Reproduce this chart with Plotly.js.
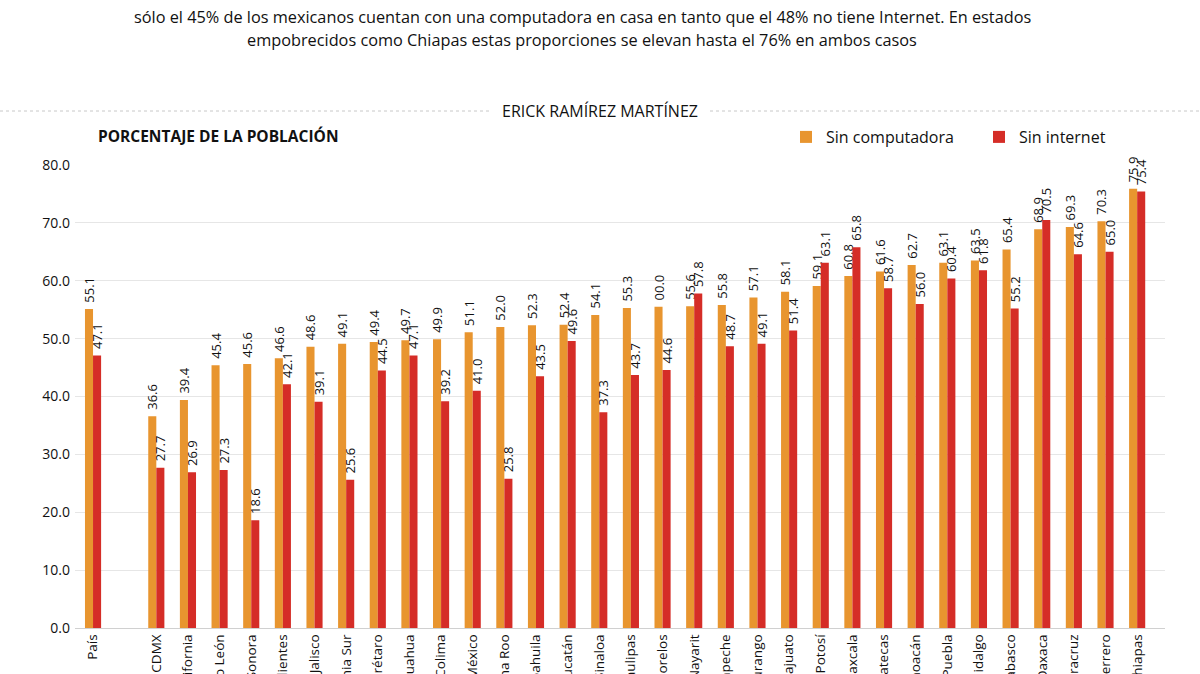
<!DOCTYPE html>
<html>
<head>
<meta charset="utf-8">
<script src="https://cdn.plot.ly/plotly-3.0.1.min.js"></script>
<style>html,body{margin:0;padding:0;background:#fff;}#chart{width:1200px;height:674px;}</style>
</head>
<body>
<div id="chart"></div>
<script>
const categories = ["País", " ", "CDMX", "Baja California", "Nuevo León", "Sonora", "Aguascalientes", "Jalisco",
  "Baja California Sur", "Querétaro", "Chihuahua", "Colima", "Estado de México", "Quintana Roo", "Coahuila",
  "Yucatán", "Sinaloa", "Tamaulipas", "Morelos", "Nayarit", "Campeche", "Durango", "Guanajuato",
  "San Luis Potosí", "Tlaxcala", "Zacatecas", "Michoacán", "Puebla", "Hidalgo", "Tabasco", "Oaxaca",
  "Veracruz", "Guerrero", "Chiapas"];

const sinComputadora = [55.1, null, 36.6, 39.4, 45.4, 45.6, 46.6, 48.6, 49.1, 49.4, 49.7, 49.9, 51.1, 52.0, 52.3,
  52.4, 54.1, 55.3, 55.5, 55.6, 55.8, 57.1, 58.1, 59.1, 60.8, 61.6, 62.7, 63.1, 63.5, 65.4, 68.9, 69.3, 70.3, 75.9];

const sinInternet = [47.1, null, 27.7, 26.9, 27.3, 18.6, 42.1, 39.1, 25.6, 44.5, 47.1, 39.2, 41.0, 25.8, 43.5,
  49.6, 37.3, 43.7, 44.6, 57.8, 48.7, 49.1, 51.4, 63.1, 65.8, 58.7, 56.0, 60.4, 61.8, 55.2, 70.5, 64.6, 65.0, 75.4];

// labels as printed in the source (Morelos is printed as "00.0")
const labelOverridesComputadora = {"Morelos": "00.0"};

const yTicks = [0, 10, 20, 30, 40, 50, 60, 70, 80];

const GAP = "\u00a0";
const fmt = (arr, overrides) => arr.map((v, i) =>
  v === null ? "" : GAP + (overrides && overrides[categories[i]] !== undefined ? overrides[categories[i]] : v.toFixed(1)));

const ORANGE = "#E8952F", RED = "#D52D27";

const traces = [
  {type: "bar", name: "Sin computadora", x: categories, y: sinComputadora,
   marker: {color: ORANGE}, text: fmt(sinComputadora, labelOverridesComputadora),
   textposition: "outside", textangle: -90, constraintext: "none", cliponaxis: false,
   textfont: {family: "Open Sans", size: 13, color: "#111"}, hoverinfo: "skip"},
  {type: "bar", name: "Sin internet", x: categories, y: sinInternet,
   marker: {color: RED}, text: fmt(sinInternet),
   textposition: "outside", textangle: -90, constraintext: "none", cliponaxis: false,
   textfont: {family: "Open Sans", size: 13, color: "#111"}, hoverinfo: "skip"}
];

const T = 165, B = 46, H = 674, PH = H - T - B;
const py = (px) => 1 + (T - px) / PH;
const L = 75, R = 35, PW = 1200 - L - R;
const pxX = (px) => (px - L) / PW;

const layout = {
  width: 1200, height: 674,
  margin: {t: T, b: B, l: L, r: R, pad: 0},
  paper_bgcolor: "#fff", plot_bgcolor: "#fff",
  font: {family: "Open Sans", color: "#111"},
  barmode: "group", bargap: 0.49, bargroupgap: 0,
  showlegend: true,
  legend: {orientation: "h", x: pxX(786), xanchor: "left", y: py(137), yanchor: "middle",
    font: {family: "Open Sans", size: 16, color: "#111"}, bgcolor: "rgba(0,0,0,0)", traceorder: "normal",
    entrywidth: 148, entrywidthmode: "pixels"},
  xaxis: {type: "category", range: [-0.57, 33.88], tickangle: -90, automargin: false, showgrid: false,
    showline: true, linecolor: "#d0d0d0", linewidth: 1, ticks: "",
    tickfont: {family: "Open Sans", size: 13.5, color: "#111"}, fixedrange: true},
  yaxis: {range: [0, 80], tickvals: yTicks, ticktext: yTicks.map(v => v.toFixed(1)),
    showgrid: true, gridcolor: "#e6e6e6", gridwidth: 1, zeroline: false, showline: false,
    ticks: "", ticklabelstandoff: 4, automargin: false,
    tickfont: {family: "Open Sans", size: 14, color: "#111"}, fixedrange: true},
  annotations: [
    {xref: "paper", yref: "paper", x: pxX(582), y: py(17), xanchor: "center", yanchor: "middle", showarrow: false,
     text: "sólo el 45% de los mexicanos cuentan con una computadora en casa en tanto que el 48% no tiene Internet. En estados",
     font: {family: "Open Sans", size: 16.3, color: "#111"}},
    {xref: "paper", yref: "paper", x: pxX(582), y: py(40), xanchor: "center", yanchor: "middle", showarrow: false,
     text: "empobrecidos como Chiapas estas proporciones se elevan hasta el 76% en ambos casos",
     font: {family: "Open Sans", size: 16.3, color: "#111"}},
    {xref: "paper", yref: "paper", x: pxX(600), y: py(111), xanchor: "center", yanchor: "middle", showarrow: false,
     text: "ERICK RAMÍREZ MARTÍNEZ", font: {family: "Open Sans", size: 16, color: "#111"}},
    {xref: "paper", yref: "paper", x: pxX(96), y: py(136), xanchor: "left", yanchor: "middle", showarrow: false,
     text: "<b>PORCENTAJE DE LA POBLACIÓN</b>", font: {family: "Open Sans", size: 15.5, color: "#111"}}
  ],
  shapes: [
    {type: "line", xref: "paper", yref: "paper", x0: pxX(0), x1: pxX(490), y0: py(111), y1: py(111),
     line: {color: "#c8c8c8", width: 1, dash: "dot"}},
    {type: "line", xref: "paper", yref: "paper", x0: pxX(710), x1: pxX(1200), y0: py(111), y1: py(111),
     line: {color: "#c8c8c8", width: 1, dash: "dot"}}
  ]
};

Plotly.newPlot("chart", traces, layout, {displayModeBar: false, staticPlot: true});
</script>
</body>
</html>
